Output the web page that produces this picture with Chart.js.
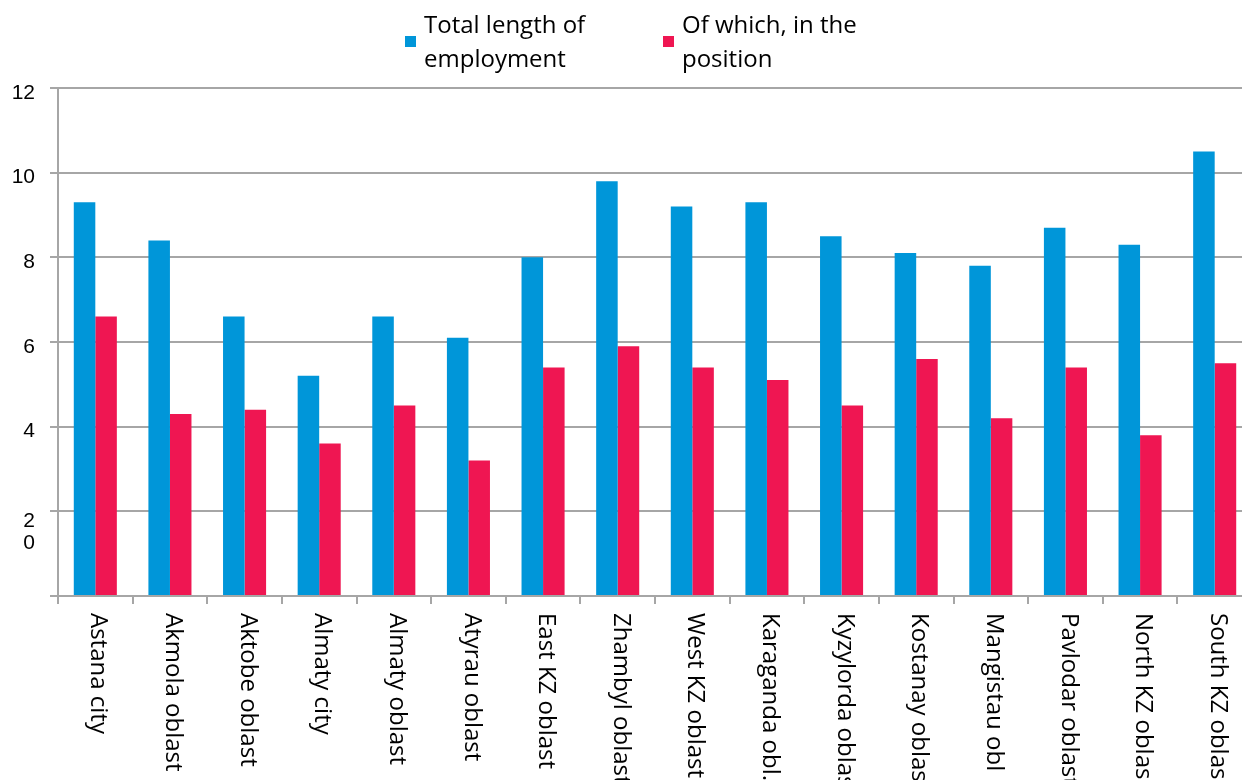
<!DOCTYPE html>
<html>
<head>
<meta charset="utf-8">
<script src="https://cdn.jsdelivr.net/npm/chart.js@4"></script>
<style>
  html, body { margin: 0; padding: 0; background: #fff; }
  #wrap { position: relative; width: 1242px; height: 780px; overflow: hidden; }
  #box { position: absolute; left: 0; top: 0; width: 1262px; height: 780px; }
  .leg { position: absolute; top: 7px; font-family: "Open Sans", sans-serif; font-size: 24px; line-height: 34px; color: #000; }
  .leg .sw { position: absolute; left: -19px; top: 29px; width: 11px; height: 11px; }
</style>
</head>
<body>
<div id="wrap">
  <div id="box"><canvas id="myChart" width="1262" height="780"></canvas></div>
  <div class="leg" id="leg1" style="left:424px"><span class="sw"></span></div>
  <div class="leg" id="leg2" style="left:682px"><span class="sw"></span></div>
</div>
<script>
const regions = ['Astana city', 'Akmola oblast', 'Aktobe oblast', 'Almaty city', 'Almaty oblast',
  'Atyrau oblast', 'East KZ oblast', 'Zhambyl oblast', 'West KZ oblast', 'Karaganda obl.',
  'Kyzylorda oblast', 'Kostanay oblast', 'Mangistau obl', 'Pavlodar oblast', 'North KZ oblast',
  'South KZ oblast'];

const totalLength = [9.3, 8.4, 6.6, 5.2, 6.6, 6.1, 8.0, 9.8, 9.2, 9.3, 8.5, 8.1, 7.8, 8.7, 8.3, 10.5];
const inPosition = [6.6, 4.3, 4.4, 3.6, 4.5, 3.2, 5.4, 5.9, 5.4, 5.1, 4.5, 5.6, 4.2, 5.4, 3.8, 5.5];

const seriesNames = [['Total length of', 'employment'], ['Of which, in the', 'position']];
const yTicks = [0, 2, 4, 6, 8, 10, 12];

const blue = '#0096d9';
const red = '#ef1652';
const gridGray = '#a6a6a6';

// html legend (two-line labels)
[['leg1', blue, seriesNames[0]], ['leg2', red, seriesNames[1]]].forEach(([id, col, lines]) => {
  const el = document.getElementById(id);
  el.querySelector('.sw').style.background = col;
  el.insertAdjacentHTML('beforeend', lines.join('<br>'));
});

// x labels read top-to-bottom; y labels sit a little under their lines, "2" and "0" stacked
const customText = {
  id: 'customText',
  afterDraw(chart) {
    const {ctx, scales: {x, y}} = chart;
    ctx.save();
    ctx.fillStyle = '#000';
    ctx.font = '24px "Open Sans"';
    ctx.textAlign = 'left';
    ctx.textBaseline = 'middle';
    regions.forEach((r, i) => {
      ctx.save();
      ctx.translate(x.getPixelForValue(i) + 3, 613);
      ctx.rotate(Math.PI / 2);
      ctx.fillText(r, 0, 0);
      ctx.restore();
    });
    ctx.font = '21px "Liberation Sans"';
    ctx.textAlign = 'right';
    yTicks.forEach(v => {
      const py = y.getPixelForValue(v);
      if (v >= 4) ctx.fillText(String(v), 35, py + 5);
    });
    const p2 = y.getPixelForValue(2);
    ctx.fillText('2', 35, p2 + 10);
    ctx.fillText('0', 35, p2 + 32);
    ctx.restore();
  }
};

new Chart(document.getElementById('myChart'), {
  type: 'bar',
  data: {
    labels: regions,
    datasets: [
      { label: seriesNames[0].join(' '), data: totalLength, backgroundColor: blue },
      { label: seriesNames[1].join(' '), data: inPosition, backgroundColor: red }
    ]
  },
  options: {
    responsive: false,
    animation: false,
    layout: { padding: { top: 88, right: 10, left: 0, bottom: 0 } },
    datasets: { bar: { barPercentage: 1, categoryPercentage: 0.577 } },
    plugins: { legend: { display: false }, tooltip: { enabled: false } },
    scales: {
      x: {
        ticks: { display: false },
        grid: { offset: true, drawOnChartArea: false, drawTicks: true, tickLength: 8, color: gridGray, lineWidth: 2 },
        border: { color: gridGray, width: 2 },
        afterFit(s) { s.height = 184; }
      },
      y: {
        min: 0,
        max: 12,
        afterBuildTicks(s) { s.ticks = yTicks.map(v => ({ value: v })); },
        ticks: { display: false },
        grid: { color: gridGray, lineWidth: 2, tickLength: 8 },
        border: { color: gridGray, width: 2 },
        afterFit(s) { s.width = 58; }
      }
    }
  },
  plugins: [customText]
});
</script>
</body>
</html>
